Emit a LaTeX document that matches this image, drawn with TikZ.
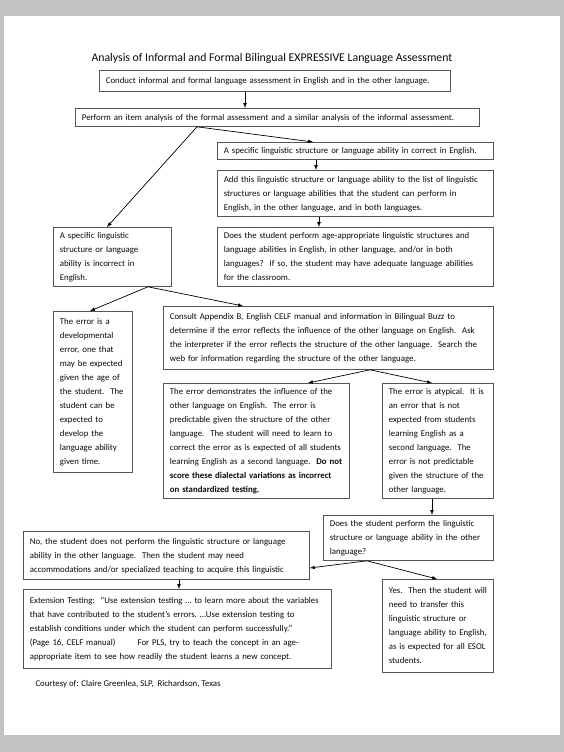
\documentclass[tikz,border=0pt]{standalone}
\usepackage{fontspec}
\setmainfont{Carlito}
\definecolor{pagegray}{RGB}{194,194,194}
\definecolor{boxgray}{RGB}{85,85,85}
\definecolor{textgray}{RGB}{10,10,10}
\begin{document}
\begin{tikzpicture}[x=1pt,y=-1pt,
  box/.style={draw=boxgray, line width=0.8pt, anchor=north west,
    inner xsep=6.5pt, inner ysep=1.5pt, text=textgray,
    font=\fontsize{8.8}{14}\selectfont,
    execute at begin node={\strut\frenchspacing\rightskip=0pt minus 20pt},
    execute at end node=\strut},
  arr/.style={-latex, line width=0.7pt}]
    \useasboundingbox (0,0) rectangle (564,752);
    \fill[pagegray] (0,0) rectangle (564,752);
    \fill[white] (4,16) rectangle (560,735);
    \node[font=\fontsize{11.8}{14}\selectfont, text=textgray] (title) at (272,58)
      {Analysis of Informal and Formal Bilingual EXPRESSIVE Language Assessment};
    \node[box, text width=338pt, minimum height=21pt] (conduct) at (99,70)
      {Conduct informal and formal language assessment in English and in the other language.};
    \node[box, text width=391pt, minimum height=18pt] (item) at (75,108)
      {Perform an item analysis of the formal assessment and a similar analysis of the informal assessment.};
    \node[box, text width=263pt, minimum height=17pt] (correct) at (217,142)
      {A specific linguistic structure or language ability in correct in English.};
    \node[box, text width=263pt, minimum height=46pt] (addlist) at (217,170)
      {Add this linguistic structure or language ability to the list of linguistic\\
       structures or language abilities that the student can perform in\\
       English, in the other language, and in both languages.};
    \node[box, text width=263pt, minimum height=59pt] (ageok) at (217,227)
      {Does the student perform age-appropriate linguistic structures and\\
       language abilities in English, in other language, and/or in both\\
       languages?~ If so, the student may have adequate language abilities\\
       for the classroom.};
    \node[box, text width=105pt, minimum height=59pt] (incorrect) at (53,227)
      {A specific linguistic\\ structure or language\\ ability is incorrect in\\ English.};
    \node[box, text width=66pt, minimum height=161pt] (devel) at (53,311)
      {The error is a\\ developmental\\ error, one that\\ may be expected\\ given the age of\\
       the student.~ The\\ student can be\\ expected to\\ develop the\\ language ability\\ given time.};
    \node[box, text width=317pt, minimum height=63pt] (consult) at (163,306)
      {Consult Appendix B, English CELF manual and information in Bilingual Buzz to\\
       determine if the error reflects the influence of the other language on English.~ Ask\\
       the interpreter if the error reflects the structure of the other language.~ Search the\\
       web for information regarding the structure of the other language.};
    \node[box, text width=173pt, minimum height=115pt] (influence) at (163,383)
      {The error demonstrates the influence of the\\ other language on English.~ The error is\\
       predictable given the structure of the other\\ language.~ The student will need to learn to\\
       correct the error as is expected of all students\\
       learning English as a second language.~ \textbf{Do not}\\
       \textbf{score these dialectal variations as incorrect}\\ \textbf{on standardized testing.}};
    \node[box, text width=98pt, minimum height=115pt] (atypical) at (382,383)
      {The error is atypical.~ It is\\ an error that is not\\ expected from students\\
       learning English as a\\ second language.~ The\\ error is not predictable\\
       given the structure of the\\ other language.};
    \node[box, text width=157pt, minimum height=37pt] (otherlang) at (323,515)
      {Does the student perform the linguistic\\ structure or language ability in the other\\ language?};
    \node[box, text width=273pt, minimum height=48pt] (nolang) at (23,531)
      {No, the student does not perform the linguistic structure or language\\
       ability in the other language.~ Then the student may need\\
       accommodations and/or specialized teaching to acquire this linguistic};
    \node[box, text width=295pt, minimum height=79pt] (extension) at (23,589)
      {Extension Testing:~ ``Use extension testing … to learn more about the variables\\
       that have contributed to the student's errors. …Use extension testing to\\
       establish conditions under which the student can perform successfully.''\\
       (Page 16, CELF manual)\hspace{22pt}For PLS, try to teach the concept in an age-\\
       appropriate item to see how readily the student learns a new concept.};
    \node[box, text width=98pt, minimum height=93pt] (yes) at (382,579)
      {Yes.~ Then the student will\\ need to transfer this\\ linguistic structure or\\
       language ability to English,\\ as is expected for all ESOL\\ students.};
    \node[anchor=west, text=textgray, font=\fontsize{8.8}{14}\selectfont] (courtesy) at (32,684)
      {Courtesy of: Claire Greenlea, SLP,~ Richardson, Texas};
    \draw[arr] (conduct.south -| 245,0) -- (item.north -| 245,0);
    \draw[arr] (item.south -| 197,0) -- (correct.north -| 313,0);
    \draw[arr] (item.south -| 197,0) -- (incorrect.north -| 107,0);
    \draw[arr] (correct.south -| 316,0) -- (addlist.north -| 316,0);
    \draw[arr] (addlist.south -| 319,0) -- (ageok.north -| 319,0);
    \draw[arr] (incorrect.south -| 148,0) -- (devel.north -| 90,0);
    \draw[arr] (incorrect.south -| 148,0) -- (consult.north -| 243,0);
    \draw[arr] (consult.south -| 370,0) -- (influence.north -| 308,0);
    \draw[arr] (consult.south -| 370,0) -- (atypical.north -| 432,0);
    \draw[arr] (atypical.south -| 432,0) -- (otherlang.north -| 432,0);
    \draw[arr] (otherlang.south -| 367,0) -- (nolang.east |- 0,568);
    \draw[arr] (otherlang.south -| 367,0) -- (yes.north -| 437,0);
    \draw[arr] (nolang.south -| 179,0) -- (extension.north -| 179,0);
\end{tikzpicture}
\end{document}
